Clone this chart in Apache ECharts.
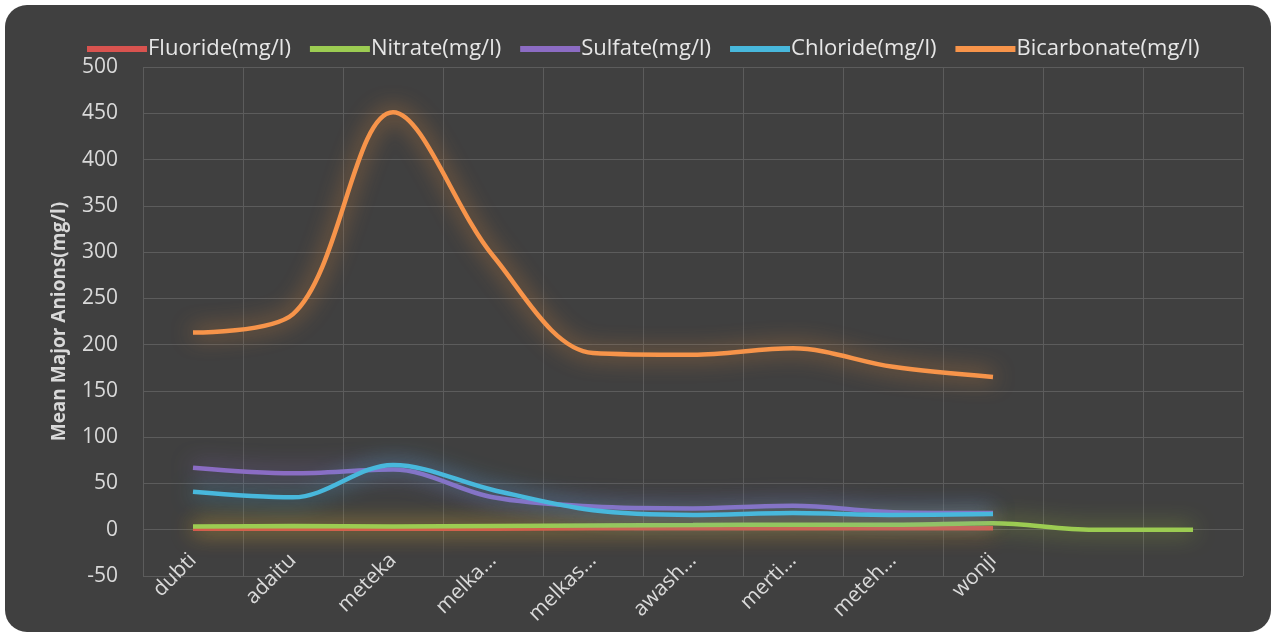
<!DOCTYPE html>
<html>
<head>
<meta charset="utf-8">
<script src="https://cdn.jsdelivr.net/npm/echarts@6/dist/echarts.min.js"></script>
<style>
  html, body { margin: 0; padding: 0; background: #ffffff; }
  #frame { position: absolute; left: 5px; top: 5px; width: 1266px; height: 627px;
           background: #404040; border-radius: 22px; overflow: hidden; }
  #chart { position: absolute; left: -5px; top: -5px; width: 1275px; height: 637px; }
</style>
</head>
<body>
<div id="frame"><div id="chart"></div></div>
<script>
// Sampling sites (the last two slots hold no site name)
const sites = ['dubti', 'adaitu', 'meteka', 'melka...', 'melkas...', 'awash...', 'merti...', 'meteh...', 'wonji', '', ''];

// Mean anion concentrations, mg/l
const fluoride    = [1, 1, 1, 1, 1.5, 1.5, 1.5, 1.5, 1.5];
const nitrate     = [3.5, 4, 3.5, 4, 4.5, 5, 5.5, 5.5, 7, 0, 0];
const sulfate     = [67, 61, 65, 35, 25, 23, 26, 19, 18];
const chloride    = [41, 35, 70, 43, 21, 16, 18, 16, 17];
const bicarbonate = [213, 233, 451, 296, 191, 189, 196, 176, 165];

const yTicks = { min: -50, max: 500, step: 50 };

const seriesDefs = [
  { name: 'Fluoride(mg/l)',    data: fluoride,    color: '#d9534f', glow: 'rgba(235,120,50,0.95)' },
  { name: 'Nitrate(mg/l)',     data: nitrate,     color: '#9ccc52', glow: 'rgba(170,200,60,0.8)' },
  { name: 'Sulfate(mg/l)',     data: sulfate,     color: '#8c6cc4', glow: 'rgba(140,110,200,0.8)' },
  { name: 'Chloride(mg/l)',    data: chloride,    color: '#48b8dc', glow: 'rgba(70,185,225,0.8)' },
  { name: 'Bicarbonate(mg/l)', data: bicarbonate, color: '#f7944a', glow: 'rgba(247,148,60,0.85)' }
];

const fontFam = '"Open Sans", "Noto Sans", sans-serif';
const chart = echarts.init(document.getElementById('chart'), null, { renderer: 'canvas' });

chart.setOption({
  backgroundColor: 'transparent',
  animation: false,
  legend: {
    top: 33,
    left: 82,
    itemGap: 19,
    itemWidth: 60,
    itemHeight: 6,
    icon: 'rect',
    textStyle: { color: '#e6e6e6', fontSize: 22, fontFamily: fontFam, padding: [0, 0, 0, -4] },
    data: seriesDefs.map(s => s.name)
  },
  grid: { left: 143, right: 32, top: 67, bottom: 61, outerBoundsMode: 'none', containLabel: false },
  xAxis: {
    type: 'category',
    data: sites,
    boundaryGap: true,
    axisLine: { show: false, onZero: false },
    axisTick: { show: false },
    splitLine: { show: true, lineStyle: { color: '#5c5c5c', width: 1 } },
    axisLabel: {
      color: '#d9d9d9', fontSize: 21, fontFamily: fontFam,
      rotate: 45, margin: -19, interval: 0
    }
  },
  yAxis: {
    type: 'value',
    min: yTicks.min, max: yTicks.max, interval: yTicks.step,
    name: 'Mean Major Anions(mg/l)',
    nameLocation: 'middle',
    nameGap: 74,
    nameRotate: 90,
    nameTextStyle: { color: '#d9d9d9', fontSize: 19, fontWeight: 'bold', fontFamily: fontFam },
    axisLine: { show: false },
    axisTick: { show: false },
    splitLine: { lineStyle: { color: '#5c5c5c', width: 1 } },
    axisLabel: { color: '#d9d9d9', fontSize: 21, fontFamily: fontFam, margin: 25, align: 'right' }
  },
  series: seriesDefs.map(s => ({
    name: s.name,
    type: 'line',
    data: s.data,
    smooth: 0.34,
    showSymbol: false,
    symbol: 'none',
    itemStyle: { color: s.color },
    lineStyle: {
      color: s.color, width: 4.5,
      shadowColor: s.glow, shadowBlur: 22
    }
  }))
});
</script>
</body>
</html>
